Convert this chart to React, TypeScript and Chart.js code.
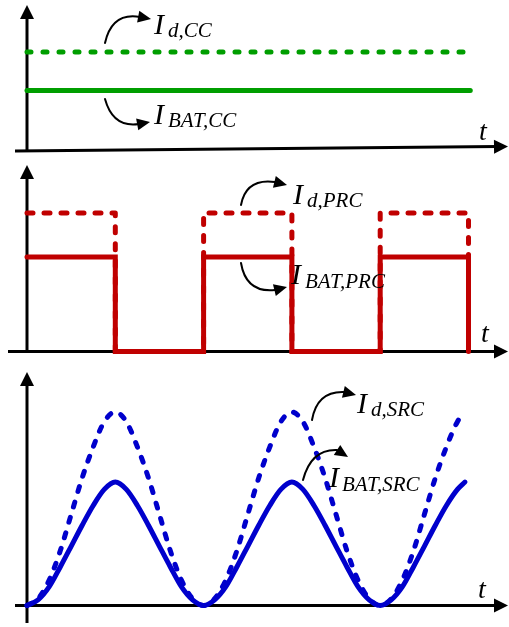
import React, { useEffect, useRef } from "react";
import { Chart, registerables } from "chart.js";

Chart.register(...registerables);

// Constant-current charging: converter output current and battery current
const ccTime = [0, 5.02];
const idCC = [1, 1];
const ibatCC = [0.607, 0.607];

// Pulsed (PRC) charging: square pulses, one half-period on, one off
const prcTime = [0, 1, 1, 2, 2, 3, 3, 4, 4, 5, 5];
const idPRC = [1, 1, 0, 0, 1, 1, 0, 0, 1, 1, 0];
const ibatPRC = [0.682, 0.682, 0, 0, 0.682, 0.682, 0, 0, 0.682, 0.682, 0];

// Sinusoidal ripple (SRC) charging, sampled every 1/8 of a half-period
const srcTime = [
  0, 0.125, 0.25, 0.375, 0.5, 0.625, 0.75, 0.875, 1,
  1.125, 1.25, 1.375, 1.5, 1.625, 1.75, 1.875, 2,
  2.125, 2.25, 2.375, 2.5, 2.625, 2.75, 2.875, 3,
  3.125, 3.25, 3.375, 3.5, 3.625, 3.75, 3.875, 4,
  4.125, 4.25, 4.375, 4.5, 4.625, 4.75, 4.875, 4.96,
];
const idSRC = [
  0, 0.035, 0.13, 0.28, 0.47, 0.66, 0.82, 0.95, 1.0,
  0.95, 0.82, 0.66, 0.47, 0.28, 0.13, 0.035, 0,
  0.035, 0.13, 0.28, 0.47, 0.66, 0.82, 0.95, 1.0,
  0.95, 0.82, 0.66, 0.47, 0.28, 0.13, 0.035, 0,
  0.035, 0.13, 0.28, 0.47, 0.66, 0.82, 0.95, 1.0,
];
const ibatSRC = [
  0, 0.029, 0.096, 0.198, 0.306, 0.415, 0.517, 0.6, 0.638,
  0.6, 0.517, 0.415, 0.306, 0.198, 0.096, 0.029, 0,
  0.029, 0.096, 0.198, 0.306, 0.415, 0.517, 0.6, 0.638,
  0.6, 0.517, 0.415, 0.306, 0.198, 0.096, 0.029, 0,
  0.029, 0.096, 0.198, 0.306, 0.415, 0.517, 0.6, 0.638,
];

const GREEN = "#009e00";
const RED = "#c00000";
const BLUE = "#0000cc";
const SERIF = "'Liberation Serif', 'Times New Roman', serif";

const X_MIN = -0.3058;
const X_MAX = 5.4587;

type Pt = [number, number];
type CurvedArrow = { from: Pt; ctrl: Pt; to: Pt; tip: Pt };
type Label = { x: number; y: number; main: string; sub: string; subX: number; subY: number };
type AxisSpec = {
  yTop: number;
  yBottom: number;
  xLeft: number;
  xTip: number;
  leftDy: number;
  rightDy: number;
  tPos: Pt;
};

type PanelSpec = {
  top: number;
  height: number;
  yMin: number;
  yMax: number;
  datasets: any[];
  axis: AxisSpec;
  labels: Label[];
  arrows: CurvedArrow[];
};

const pts = (t: number[], v: number[]) => t.map((x, i) => ({ x, y: v[i] }));

const solidLine = (data: any[], color: string, extra: any = {}) => ({
  data,
  borderColor: color,
  borderWidth: 5,
  borderCapStyle: "round",
  borderJoinStyle: "miter",
  pointRadius: 0,
  fill: false,
  clip: false,
  ...extra,
});

const dashedLine = (data: any[], color: string, dash: number[], extra: any = {}) =>
  solidLine(data, color, { borderDash: dash, borderJoinStyle: "round", ...extra });

function arrowHead(ctx: CanvasRenderingContext2D, from: Pt, tip: Pt, len: number, half: number) {
  const a = Math.atan2(tip[1] - from[1], tip[0] - from[0]);
  const bx = tip[0] - len * Math.cos(a);
  const by = tip[1] - len * Math.sin(a);
  ctx.beginPath();
  ctx.moveTo(tip[0], tip[1]);
  ctx.lineTo(bx + half * Math.sin(a), by - half * Math.cos(a));
  ctx.lineTo(bx - half * Math.sin(a), by + half * Math.cos(a));
  ctx.closePath();
  ctx.fill();
}

function makeDecorations(spec: PanelSpec) {
  return {
    id: "waveDecorations",
    beforeDatasetsDraw(chart: any) {
      const { ctx } = chart;
      const xs = chart.scales.x;
      const ys = chart.scales.y;
      const x0 = xs.getPixelForValue(0);
      const y0 = ys.getPixelForValue(0);
      const a = spec.axis;
      ctx.save();
      ctx.strokeStyle = "#000";
      ctx.fillStyle = "#000";
      ctx.lineWidth = 3;
      // vertical (current) axis
      ctx.beginPath();
      ctx.moveTo(x0, a.yBottom);
      ctx.lineTo(x0, a.yTop + 10);
      ctx.stroke();
      arrowHead(ctx, [x0, a.yBottom], [x0, a.yTop], 14, 7);
      // horizontal (time) axis
      const left: Pt = [a.xLeft, y0 + a.leftDy];
      const tip: Pt = [a.xTip, y0 + a.rightDy];
      ctx.beginPath();
      ctx.moveTo(left[0], left[1]);
      ctx.lineTo(tip[0] - 10, tip[1]);
      ctx.stroke();
      arrowHead(ctx, left, tip, 14, 7);
      ctx.restore();
    },
    afterDraw(chart: any) {
      const { ctx } = chart;
      ctx.save();
      ctx.fillStyle = "#000";
      ctx.strokeStyle = "#000";
      ctx.textBaseline = "alphabetic";
      ctx.textAlign = "left";
      ctx.font = `italic 28px ${SERIF}`;
      ctx.fillText("t", spec.axis.tPos[0], spec.axis.tPos[1]);
      for (const l of spec.labels) {
        ctx.font = `italic 30px ${SERIF}`;
        ctx.fillText(l.main, l.x, l.y);
        ctx.font = `italic 21px ${SERIF}`;
        ctx.fillText(l.sub, l.subX, l.subY);
      }
      ctx.lineWidth = 2;
      ctx.lineCap = "round";
      for (const ar of spec.arrows) {
        ctx.beginPath();
        ctx.moveTo(ar.from[0], ar.from[1]);
        ctx.quadraticCurveTo(ar.ctrl[0], ar.ctrl[1], ar.to[0], ar.to[1]);
        ctx.stroke();
        arrowHead(ctx, ar.to, ar.tip, 13, 6);
      }
      ctx.restore();
    },
  };
}

const panels: PanelSpec[] = [
  {
    top: 0,
    height: 160,
    yMin: -0.102,
    yMax: 1.531,
    datasets: [
      solidLine(pts(ccTime, ibatCC), GREEN),
      dashedLine(pts(ccTime, idCC), GREEN, [4, 12]),
    ],
    axis: { yTop: 5, yBottom: 151, xLeft: 15, xTip: 508, leftDy: 1, rightDy: -3.5, tPos: [479, 140] },
    labels: [
      { x: 154, y: 34, main: "I", sub: "d,CC", subX: 168, subY: 37 },
      { x: 154, y: 124, main: "I", sub: "BAT,CC", subX: 168, subY: 127 },
    ],
    arrows: [
      { from: [105, 43], ctrl: [112, 12], to: [140, 17], tip: [151, 19] },
      { from: [105, 99], ctrl: [113, 128], to: [139, 124], tip: [150, 122] },
    ],
  },
  {
    top: 160,
    height: 200,
    yMin: -0.0614,
    yMax: 1.3827,
    datasets: [
      solidLine(pts(prcTime, ibatPRC), RED),
      dashedLine(pts(prcTime, idPRC), RED, [6, 11]),
    ],
    axis: { yTop: 5, yBottom: 193, xLeft: 8, xTip: 508, leftDy: 0, rightDy: 0, tPos: [481, 182] },
    labels: [
      { x: 293, y: 44, main: "I", sub: "d,PRC", subX: 307, subY: 47 },
      { x: 291, y: 124, main: "I", sub: "BAT,PRC", subX: 305, subY: 128 },
    ],
    arrows: [
      { from: [241, 45], ctrl: [246, 18], to: [275, 22], tip: [287, 25] },
      { from: [241, 103], ctrl: [246, 133], to: [275, 130], tip: [287, 127] },
    ],
  },
  {
    top: 360,
    height: 267,
    yMin: -0.1111,
    yMax: 1.2687,
    datasets: [
      solidLine(pts(srcTime, ibatSRC), BLUE, { cubicInterpolationMode: "monotone" }),
      dashedLine(pts(srcTime, idSRC), BLUE, [5, 11], { cubicInterpolationMode: "monotone" }),
    ],
    axis: { yTop: 12, yBottom: 263, xLeft: 15, xTip: 508, leftDy: 0, rightDy: 0, tPos: [478, 238] },
    labels: [
      { x: 357, y: 53, main: "I", sub: "d,SRC", subX: 371, subY: 56 },
      { x: 329, y: 127, main: "I", sub: "BAT,SRC", subX: 342, subY: 131 },
    ],
    arrows: [
      { from: [312, 60], ctrl: [317, 31], to: [344, 32], tip: [356, 35] },
      { from: [303, 120], ctrl: [311, 89], to: [337, 90], tip: [348, 97] },
    ],
  },
];

export default function App() {
  const refs = [
    useRef<HTMLCanvasElement>(null),
    useRef<HTMLCanvasElement>(null),
    useRef<HTMLCanvasElement>(null),
  ];

  useEffect(() => {
    const charts = panels.map((spec, i) => {
      const canvas = refs[i].current as HTMLCanvasElement;
      return new Chart(canvas, {
        type: "line",
        data: { datasets: spec.datasets },
        options: {
          animation: false,
          responsive: false,
          maintainAspectRatio: false,
          devicePixelRatio: 1,
          layout: { padding: 0 },
          events: [],
          scales: {
            x: { type: "linear", display: false, min: X_MIN, max: X_MAX },
            y: { type: "linear", display: false, min: spec.yMin, max: spec.yMax },
          },
          plugins: {
            legend: { display: false },
            tooltip: { enabled: false },
          },
        } as any,
        plugins: [makeDecorations(spec)],
      });
    });
    return () => charts.forEach((c) => c.destroy());
  }, []);

  return (
    <div
      style={{
        position: "fixed",
        left: 0,
        top: 0,
        width: 509,
        height: 627,
        background: "#fff",
        overflow: "hidden",
      }}
    >
      {panels.map((p, i) => (
        <canvas
          key={i}
          ref={refs[i]}
          width={509}
          height={p.height}
          style={{ position: "absolute", left: 0, top: p.top, width: 509, height: p.height }}
        />
      ))}
    </div>
  );
}
